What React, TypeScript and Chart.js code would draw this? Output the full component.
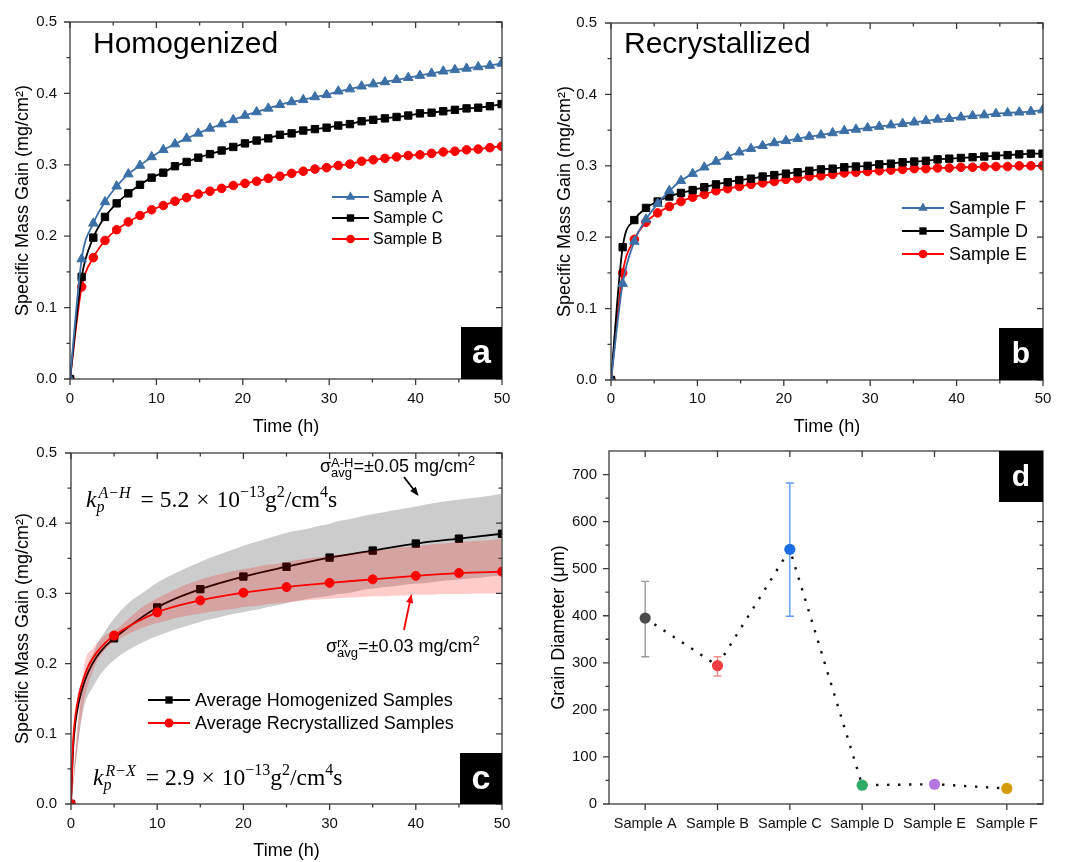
import React, { useEffect, useRef } from 'react';
import { Chart, registerables } from 'chart.js';
Chart.register(...registerables);

const SANS = '"Liberation Sans", Arial, Helvetica, sans-serif';
const SERIF = '"Liberation Serif", "Times New Roman", serif';

// ---------- data ----------
const timeH = [0, 1.35, 2.7, 4.05, 5.4, 6.75, 8.1, 9.45, 10.8, 12.15, 13.5, 14.85, 16.2, 17.55, 18.9, 20.25, 21.6, 22.95, 24.3, 25.65, 27, 28.35, 29.7, 31.05, 32.4, 33.75, 35.1, 36.45, 37.8, 39.15, 40.5, 41.85, 43.2, 44.55, 45.9, 47.25, 48.6, 49.95];

const sampleA = [0, 0.168, 0.218, 0.248, 0.270, 0.287, 0.299, 0.311, 0.321, 0.329, 0.337, 0.344, 0.351, 0.357, 0.363, 0.369, 0.374, 0.379, 0.384, 0.388, 0.391, 0.395, 0.398, 0.403, 0.406, 0.410, 0.413, 0.416, 0.419, 0.422, 0.425, 0.428, 0.431, 0.433, 0.435, 0.437, 0.439, 0.442];
const sampleC = [0, 0.143, 0.198, 0.227, 0.246, 0.260, 0.272, 0.282, 0.289, 0.298, 0.304, 0.310, 0.315, 0.320, 0.325, 0.330, 0.334, 0.337, 0.342, 0.344, 0.348, 0.350, 0.352, 0.355, 0.357, 0.361, 0.363, 0.365, 0.367, 0.369, 0.372, 0.373, 0.375, 0.377, 0.379, 0.380, 0.382, 0.385];
const sampleB = [0, 0.129, 0.170, 0.194, 0.209, 0.220, 0.229, 0.237, 0.243, 0.249, 0.254, 0.259, 0.263, 0.267, 0.271, 0.274, 0.277, 0.281, 0.284, 0.288, 0.291, 0.294, 0.296, 0.299, 0.301, 0.305, 0.307, 0.309, 0.311, 0.313, 0.314, 0.316, 0.318, 0.319, 0.321, 0.322, 0.324, 0.326];

const sampleF = [0, 0.135, 0.194, 0.225, 0.247, 0.265, 0.279, 0.289, 0.298, 0.306, 0.313, 0.319, 0.324, 0.328, 0.332, 0.335, 0.338, 0.341, 0.343, 0.346, 0.349, 0.351, 0.353, 0.355, 0.357, 0.359, 0.361, 0.363, 0.365, 0.366, 0.368, 0.370, 0.371, 0.373, 0.374, 0.375, 0.376, 0.378];
const sampleD = [0, 0.186, 0.224, 0.241, 0.250, 0.257, 0.262, 0.266, 0.270, 0.274, 0.277, 0.280, 0.282, 0.285, 0.287, 0.289, 0.291, 0.293, 0.295, 0.296, 0.298, 0.299, 0.300, 0.302, 0.303, 0.305, 0.306, 0.307, 0.309, 0.310, 0.311, 0.312, 0.313, 0.314, 0.315, 0.316, 0.317, 0.317];
const sampleE = [0, 0.150, 0.197, 0.221, 0.234, 0.243, 0.250, 0.256, 0.260, 0.265, 0.268, 0.271, 0.274, 0.276, 0.278, 0.281, 0.282, 0.285, 0.286, 0.288, 0.290, 0.291, 0.292, 0.293, 0.294, 0.295, 0.296, 0.296, 0.297, 0.297, 0.298, 0.298, 0.299, 0.299, 0.299, 0.300, 0.300, 0.300];

const avgTime = [0, 0.25, 0.5, 1, 1.5, 2, 3, 4, 5, 10, 15, 20, 25, 30, 35, 40, 45, 50];
const avgHomogenized = [0, 0.08, 0.115, 0.15, 0.172, 0.188, 0.21, 0.225, 0.236, 0.280, 0.306, 0.324, 0.338, 0.351, 0.361, 0.371, 0.378, 0.385];
const avgRecrystallized = [0, 0.09, 0.125, 0.16, 0.18, 0.196, 0.216, 0.23, 0.240, 0.273, 0.290, 0.301, 0.309, 0.315, 0.320, 0.325, 0.329, 0.331];

const grainCategories = ['Sample A', 'Sample B', 'Sample C', 'Sample D', 'Sample E', 'Sample F'];
const grainDiameter = [395, 294, 541, 40, 42, 33];
const grainErrLow = [313, 272, 399, null, null, null];
const grainErrHigh = [473, 313, 682, null, null, null];
const grainColors = ['#4a4a4a', '#ef3d41', '#1b6fe2', '#2fab66', '#b375de', '#d49b00'];
const grainErrColors = ['#9a9a9a', '#f28c8c', '#5c9cef', '#2fab66', '#b375de', '#d49b00'];

const timeTicks = [0, 10, 20, 30, 40, 50];
const timeMinorTicks = [5, 15, 25, 35, 45];
const massTicks = [0, 0.1, 0.2, 0.3, 0.4, 0.5];
const massMinorTicks = [0.05, 0.15, 0.25, 0.35, 0.45];
const grainTicks = [0, 100, 200, 300, 400, 500, 600, 700];
const grainMinorTicks = [50, 150, 250, 350, 450, 550, 650];
const categoryTickIdx = [0, 1, 2, 3, 4, 5];

const BLUE = '#3b6fa6';
const RED = '#ff0000';
const BLACK = '#000000';

// ---------- helpers ----------
const xy = (xs: number[], ys: number[]) => xs.map((x, i) => ({ x, y: ys[i] }));

function drawMarker(ctx: any, style: string, x: number, y: number, r: number, color: string) {
  ctx.fillStyle = color;
  ctx.beginPath();
  if (style === 'triangle') {
    for (let k = 0; k < 3; k++) {
      const a = (k * 2 * Math.PI) / 3;
      const px = x + Math.sin(a) * r;
      const py = y - Math.cos(a) * r;
      if (k === 0) ctx.moveTo(px, py); else ctx.lineTo(px, py);
    }
  } else if (style === 'rect') {
    const s = r * Math.SQRT1_2;
    ctx.rect(x - s, y - s, 2 * s, 2 * s);
  } else {
    ctx.arc(x, y, r, 0, Math.PI * 2);
  }
  ctx.closePath();
  ctx.fill();
}

function framePlugin(cfg: any) {
  return {
    id: 'frame',
    afterDraw(chart: any) {
      const { ctx } = chart;
      const { left, right, top, bottom } = chart.chartArea;
      const xs = chart.scales.x;
      const ys = chart.scales.y;
      ctx.save();
      ctx.strokeStyle = '#3a3a3a';
      ctx.lineWidth = 1.3;
      ctx.beginPath();
      const seg = (x1: number, y1: number, x2: number, y2: number) => { ctx.moveTo(x1, y1); ctx.lineTo(x2, y2); };
      const xt = (v: number, len: number) => {
        const px = xs.getPixelForValue(v);
        seg(px, bottom, px, bottom + len);
        seg(px, top, px, top + len);
      };
      const yt = (v: number, len: number) => {
        const py = ys.getPixelForValue(v);
        seg(left, py, left - len, py);
        seg(right, py, right - len, py);
      };
      cfg.xMajor.forEach((v: number) => xt(v, 6));
      cfg.xMinor.forEach((v: number) => xt(v, 3.5));
      cfg.yMajor.forEach((v: number) => yt(v, 6));
      cfg.yMinor.forEach((v: number) => yt(v, 3.5));
      ctx.stroke();
      ctx.strokeRect(left, top, right - left, bottom - top);
      ctx.restore();
    },
  };
}

function legendPlugin(items: any[], cfg: any) {
  return {
    id: 'customLegend',
    afterDraw(chart: any) {
      const { ctx } = chart;
      ctx.save();
      items.forEach((it, i) => {
        const y = cfg.ys[i];
        ctx.strokeStyle = it.color;
        ctx.lineWidth = 1.8;
        ctx.beginPath();
        ctx.moveTo(cfg.x0, y);
        ctx.lineTo(cfg.x1, y);
        ctx.stroke();
        drawMarker(ctx, it.style, (cfg.x0 + cfg.x1) / 2, y, it.r, it.color);
        ctx.fillStyle = '#000';
        ctx.font = `${cfg.size}px ${SANS}`;
        ctx.textAlign = 'left';
        ctx.textBaseline = 'middle';
        ctx.fillText(it.label, cfg.tx, y + 1);
      });
      ctx.restore();
    },
  };
}

function titlePlugin(text: string, x: number, y: number) {
  return {
    id: 'panelTitle',
    afterDraw(chart: any) {
      const { ctx } = chart;
      ctx.save();
      ctx.fillStyle = '#000';
      ctx.font = `30px ${SANS}`;
      ctx.textAlign = 'left';
      ctx.textBaseline = 'alphabetic';
      ctx.fillText(text, x, y);
      ctx.restore();
    },
  };
}

function boxPlugin(letter: string, corner: 'br' | 'tr', w: number, h: number, size: number) {
  return {
    id: 'panelBox',
    afterDraw(chart: any) {
      const { ctx } = chart;
      const { right, top, bottom } = chart.chartArea;
      const x = right - w;
      const y = corner === 'br' ? bottom - h : top;
      ctx.save();
      ctx.fillStyle = '#000';
      ctx.fillRect(x, y, w, h);
      ctx.fillStyle = '#fff';
      ctx.font = `bold ${size}px ${SANS}`;
      ctx.textAlign = 'center';
      ctx.textBaseline = 'middle';
      ctx.fillText(letter, x + w / 2, y + h / 2 + 1);
      ctx.restore();
    },
  };
}

function drawRich(ctx: any, x: number, y: number, segs: any[]) {
  ctx.textAlign = 'left';
  ctx.textBaseline = 'alphabetic';
  for (const s of segs) {
    if (s.gap !== undefined) { x += s.gap; continue; }
    if (s.sup !== undefined && s.sub !== undefined) {
      ctx.font = s.f;
      const w1 = ctx.measureText(s.sup).width;
      const w2 = ctx.measureText(s.sub).width;
      ctx.fillText(s.sup, x + (s.supDx || 0), y + s.supDy);
      ctx.fillText(s.sub, x, y + s.subDy);
      x += Math.max(w1 + (s.supDx || 0), w2);
      continue;
    }
    ctx.font = s.f;
    ctx.fillText(s.t, x, y + (s.dy || 0));
    x += ctx.measureText(s.t).width;
  }
}

function arrow(ctx: any, x1: number, y1: number, x2: number, y2: number, color: string) {
  const ang = Math.atan2(y2 - y1, x2 - x1);
  const hl = 9, hw = 3.5;
  ctx.strokeStyle = color;
  ctx.fillStyle = color;
  ctx.lineWidth = 1.8;
  ctx.beginPath();
  ctx.moveTo(x1, y1);
  ctx.lineTo(x2 - Math.cos(ang) * hl * 0.8, y2 - Math.sin(ang) * hl * 0.8);
  ctx.stroke();
  ctx.beginPath();
  ctx.moveTo(x2, y2);
  ctx.lineTo(x2 - Math.cos(ang) * hl - Math.sin(ang) * hw, y2 - Math.sin(ang) * hl + Math.cos(ang) * hw);
  ctx.lineTo(x2 - Math.cos(ang) * hl + Math.sin(ang) * hw, y2 - Math.sin(ang) * hl - Math.cos(ang) * hw);
  ctx.closePath();
  ctx.fill();
}

const annotationPlugin = {
  id: 'annotC',
  afterDraw(chart: any) {
    const { ctx } = chart;
    ctx.save();
    ctx.fillStyle = '#000';
    const big = `23.5px ${SERIF}`;
    const bigI = `italic 23.5px ${SERIF}`;
    const smI = `italic 16px ${SERIF}`;
    const sm = `16px ${SERIF}`;
    const kSegs = (sup: string, val: string) => [
      { t: 'k', f: bigI },
      { sup, sub: 'p', f: smI, supDy: -9, subDy: 5, supDx: 2 },
      { gap: 10 },
      { t: '=', f: big },
      { gap: 6 },
      { t: val, f: big },
      { gap: 7 },
      { t: '×', f: big },
      { gap: 7 },
      { t: '10', f: big },
      { t: '−13', f: sm, dy: -10 },
      { t: 'g', f: big },
      { t: '2', f: sm, dy: -10 },
      { t: '/cm', f: big },
      { t: '4', f: sm, dy: -10 },
      { t: 's', f: big },
    ];
    drawRich(ctx, 86, 77, kSegs('A−H', '5.2'));
    drawRich(ctx, 93, 355, kSegs('R−X', '2.9'));

    const main = `18px ${SANS}`;
    const small = `13px ${SANS}`;
    drawRich(ctx, 320, 42, [
      { t: 'σ', f: main },
      { sup: 'A-H', sub: 'avg', f: small, supDy: -5, subDy: 4.5 },
      { t: '=±0.05 mg/cm', f: main },
      { t: '2', f: small, dy: -7 },
    ]);
    drawRich(ctx, 326, 222, [
      { t: 'σ', f: main },
      { sup: 'rx', sub: 'avg', f: small, supDy: -5, subDy: 4.5 },
      { t: '=±0.03 mg/cm', f: main },
      { t: '2', f: small, dy: -7 },
    ]);
    arrow(ctx, 404, 47, 418.5, 66, '#000');
    arrow(ctx, 404, 200, 411.5, 164, RED);
    ctx.restore();
  },
};

const errorBarPlugin = {
  id: 'errorBars',
  beforeDatasetsDraw(chart: any) {
    const { ctx } = chart;
    const xs = chart.scales.x;
    const ys = chart.scales.y;
    ctx.save();
    ctx.lineWidth = 1.4;
    grainDiameter.forEach((_, i) => {
      const lo = grainErrLow[i];
      const hi = grainErrHigh[i];
      if (lo === null || hi === null) return;
      const x = xs.getPixelForValue(i);
      const y1 = ys.getPixelForValue(lo);
      const y2 = ys.getPixelForValue(hi);
      ctx.strokeStyle = grainErrColors[i];
      ctx.beginPath();
      ctx.moveTo(x, y1); ctx.lineTo(x, y2);
      ctx.moveTo(x - 4, y1); ctx.lineTo(x + 4, y1);
      ctx.moveTo(x - 4, y2); ctx.lineTo(x + 4, y2);
      ctx.stroke();
    });
    ctx.restore();
  },
};

const noGrid = { display: false, drawTicks: false, tickLength: 0 };

function massScales(p: any) {
  return {
    x: {
      type: 'linear',
      min: 0,
      max: 50,
      ticks: { stepSize: 10, padding: p.xTickPad, font: { size: 15, family: SANS }, color: '#111', maxRotation: 0, autoSkip: false },
      grid: noGrid,
      border: { display: false },
      title: { display: true, text: 'Time (h)', font: { size: 18, family: SANS }, color: '#000', padding: { top: 0, bottom: p.xTitlePad } },
      afterFit: (s: any) => { s.height = p.xHeight; },
    },
    y: {
      type: 'linear',
      min: 0,
      max: 0.5,
      ticks: { stepSize: 0.1, padding: p.yTickPad, font: { size: 15, family: SANS }, color: '#111', callback: (v: any) => Number(v).toFixed(1) },
      grid: noGrid,
      border: { display: false },
      title: { display: true, text: 'Specific Mass Gain (mg/cm²)', font: { size: 18, family: SANS }, color: '#000', padding: { top: p.yTitlePad, bottom: 0 } },
      afterFit: (s: any) => { s.width = p.yWidth; },
    },
  };
}

function sampleDataset(label: string, ys: number[], color: string, style: string, r: number) {
  return {
    label,
    data: xy(timeH, ys),
    borderColor: color,
    backgroundColor: color,
    pointBackgroundColor: color,
    pointBorderColor: color,
    pointStyle: style,
    pointRadius: r,
    pointBorderWidth: 1,
    borderWidth: 1.8,
    cubicInterpolationMode: 'monotone',
    fill: false,
  };
}

const baseOptions = (padding: any, scales: any) => ({
  responsive: false,
  animation: false,
  events: [],
  layout: { padding },
  plugins: { legend: { display: false }, tooltip: { enabled: false } },
  scales,
});

export default function App() {
  const refA = useRef<HTMLCanvasElement>(null);
  const refB = useRef<HTMLCanvasElement>(null);
  const refC = useRef<HTMLCanvasElement>(null);
  const refD = useRef<HTMLCanvasElement>(null);

  useEffect(() => {
    Chart.defaults.font.family = SANS;
    const charts: any[] = [];
    const massFrame = framePlugin({ xMajor: timeTicks, xMinor: timeMinorTicks, yMajor: massTicks, yMinor: massMinorTicks });

    // Panel a
    charts.push(new Chart(refA.current as any, {
      type: 'line',
      data: {
        datasets: [
          sampleDataset('Sample A', sampleA, BLUE, 'triangle', 5.5),
          sampleDataset('Sample C', sampleC, BLACK, 'rect', 5.2),
          sampleDataset('Sample B', sampleB, RED, 'circle', 4.3),
        ],
      },
      options: baseOptions({ left: 0, top: 18, right: 28, bottom: 0 },
        massScales({ xHeight: 61, yWidth: 70, xTickPad: 11, yTickPad: 13, xTitlePad: 2, yTitlePad: 12 })) as any,
      plugins: [
        massFrame,
        titlePlugin('Homogenized', 93, 53),
        legendPlugin([
          { label: 'Sample A', color: BLUE, style: 'triangle', r: 5.5 },
          { label: 'Sample C', color: BLACK, style: 'rect', r: 5.2 },
          { label: 'Sample B', color: RED, style: 'circle', r: 4.3 },
        ], { x0: 332, x1: 369, tx: 373, ys: [197, 218, 239], size: 16 }),
        boxPlugin('a', 'br', 41, 52, 34),
      ],
    } as any));

    // Panel b
    charts.push(new Chart(refB.current as any, {
      type: 'line',
      data: {
        datasets: [
          sampleDataset('Sample F', sampleF, BLUE, 'triangle', 5.5),
          sampleDataset('Sample D', sampleD, BLACK, 'rect', 5.2),
          sampleDataset('Sample E', sampleE, RED, 'circle', 4.3),
        ],
      },
      options: baseOptions({ left: 0, top: 18, right: 26, bottom: 0 },
        massScales({ xHeight: 60, yWidth: 81, xTickPad: 10, yTickPad: 14, xTitlePad: 2, yTitlePad: 24 })) as any,
      plugins: [
        massFrame,
        titlePlugin('Recrystallized', 94, 53),
        legendPlugin([
          { label: 'Sample F', color: BLUE, style: 'triangle', r: 5.5 },
          { label: 'Sample D', color: BLACK, style: 'rect', r: 5.2 },
          { label: 'Sample E', color: RED, style: 'circle', r: 4.3 },
        ], { x0: 372, x1: 414, tx: 419, ys: [208, 231, 254], size: 18 }),
        boxPlugin('b', 'br', 44, 52, 30),
      ],
    } as any));

    // Panel c
    const hUpper = timeH.map((_, i) => Math.max(sampleA[i], sampleB[i], sampleC[i]));
    const hLower = timeH.map((_, i) => Math.min(sampleA[i], sampleB[i], sampleC[i]));
    const rUpper = timeH.map((_, i) => Math.max(sampleD[i], sampleE[i], sampleF[i]));
    const rLower = timeH.map((_, i) => Math.min(sampleD[i], sampleE[i], sampleF[i]));
    const markerR = (r: number) => (ctx: any) => (avgTime[ctx.dataIndex] % 5 === 0 ? r : 0);
    charts.push(new Chart(refC.current as any, {
      type: 'line',
      data: {
        datasets: [
          { label: 'hU', data: xy(timeH, hUpper), borderWidth: 0, pointRadius: 0, fill: false, cubicInterpolationMode: 'monotone', order: 10 },
          { label: 'hL', data: xy(timeH, hLower), borderWidth: 0, pointRadius: 0, fill: '-1', backgroundColor: '#cccccc', cubicInterpolationMode: 'monotone', order: 9 },
          {
            label: 'Average Homogenized Samples', data: xy(avgTime, avgHomogenized), borderColor: BLACK, backgroundColor: BLACK,
            pointBackgroundColor: BLACK, pointBorderColor: BLACK, pointStyle: 'rect', pointRadius: markerR(5.2), pointBorderWidth: 1,
            borderWidth: 1.8, cubicInterpolationMode: 'monotone', fill: false, order: 5,
          },
          { label: 'rU', data: xy(timeH, rUpper), borderWidth: 0, pointRadius: 0, fill: false, cubicInterpolationMode: 'monotone', order: 4 },
          { label: 'rL', data: xy(timeH, rLower), borderWidth: 0, pointRadius: 0, fill: '-1', backgroundColor: 'rgba(255,0,0,0.2)', cubicInterpolationMode: 'monotone', order: 3 },
          {
            label: 'Average Recrystallized Samples', data: xy(avgTime, avgRecrystallized), borderColor: RED, backgroundColor: RED,
            pointBackgroundColor: RED, pointBorderColor: RED, pointStyle: 'circle', pointRadius: markerR(4.5), pointBorderWidth: 1,
            borderWidth: 1.8, cubicInterpolationMode: 'monotone', fill: false, order: 1,
          },
        ],
      },
      options: baseOptions({ left: 0, top: 13, right: 28, bottom: 0 },
        massScales({ xHeight: 58, yWidth: 71, xTickPad: 11, yTickPad: 14, xTitlePad: 0, yTitlePad: 12 })) as any,
      plugins: [
        massFrame,
        annotationPlugin,
        legendPlugin([
          { label: 'Average Homogenized Samples', color: BLACK, style: 'rect', r: 5.2 },
          { label: 'Average Recrystallized Samples', color: RED, style: 'circle', r: 4.5 },
        ], { x0: 148, x1: 190, tx: 195, ys: [270, 293], size: 18 }),
        boxPlugin('c', 'br', 42, 51, 34),
      ],
    } as any));

    // Panel d
    charts.push(new Chart(refD.current as any, {
      type: 'line',
      data: {
        labels: grainCategories,
        datasets: [
          {
            label: 'Grain Diameter', data: grainDiameter, borderColor: '#111', borderWidth: 2.4, borderDash: [2.4, 8.6],
            pointBackgroundColor: grainColors, pointBorderColor: grainColors, pointRadius: 5.6, pointBorderWidth: 0, fill: false, tension: 0,
          },
        ],
      },
      options: baseOptions({ left: 0, top: 13, right: 26, bottom: 0 }, {
        x: {
          type: 'category',
          offset: true,
          ticks: { padding: 11, font: { size: 14.5, family: SANS }, color: '#111', maxRotation: 0, autoSkip: false },
          grid: noGrid,
          border: { display: false },
          afterFit: (s: any) => { s.height = 58; },
        },
        y: {
          type: 'linear',
          min: 0,
          max: 750,
          ticks: { stepSize: 100, padding: 12, font: { size: 15, family: SANS }, color: '#111' },
          afterBuildTicks: (s: any) => { s.ticks = s.ticks.filter((t: any) => t.value <= 700); },
          grid: noGrid,
          border: { display: false },
          title: { display: true, text: 'Grain Diameter (μm)', font: { size: 18, family: SANS }, color: '#000', padding: { top: 18, bottom: 0 } },
          afterFit: (s: any) => { s.width = 79; },
        },
      }) as any,
      plugins: [
        framePlugin({ xMajor: categoryTickIdx, xMinor: [], yMajor: grainTicks, yMinor: grainMinorTicks }),
        errorBarPlugin,
        boxPlugin('d', 'tr', 44, 51, 30),
      ],
    } as any));

    return () => { charts.forEach((c) => c.destroy()); };
  }, []);

  const pos = (left: number, top: number): React.CSSProperties => ({ position: 'absolute', left, top });
  return (
    <div style={{ position: 'absolute', left: 0, top: 0, width: 1069, height: 862, background: '#fff', overflow: 'hidden' }}>
      <canvas ref={refA} width={530} height={440} style={pos(0, 0)} />
      <canvas ref={refB} width={539} height={440} style={pos(530, 0)} />
      <canvas ref={refC} width={530} height={432} style={pos(0, 430)} />
      <canvas ref={refD} width={539} height={432} style={pos(530, 430)} />
    </div>
  );
}
